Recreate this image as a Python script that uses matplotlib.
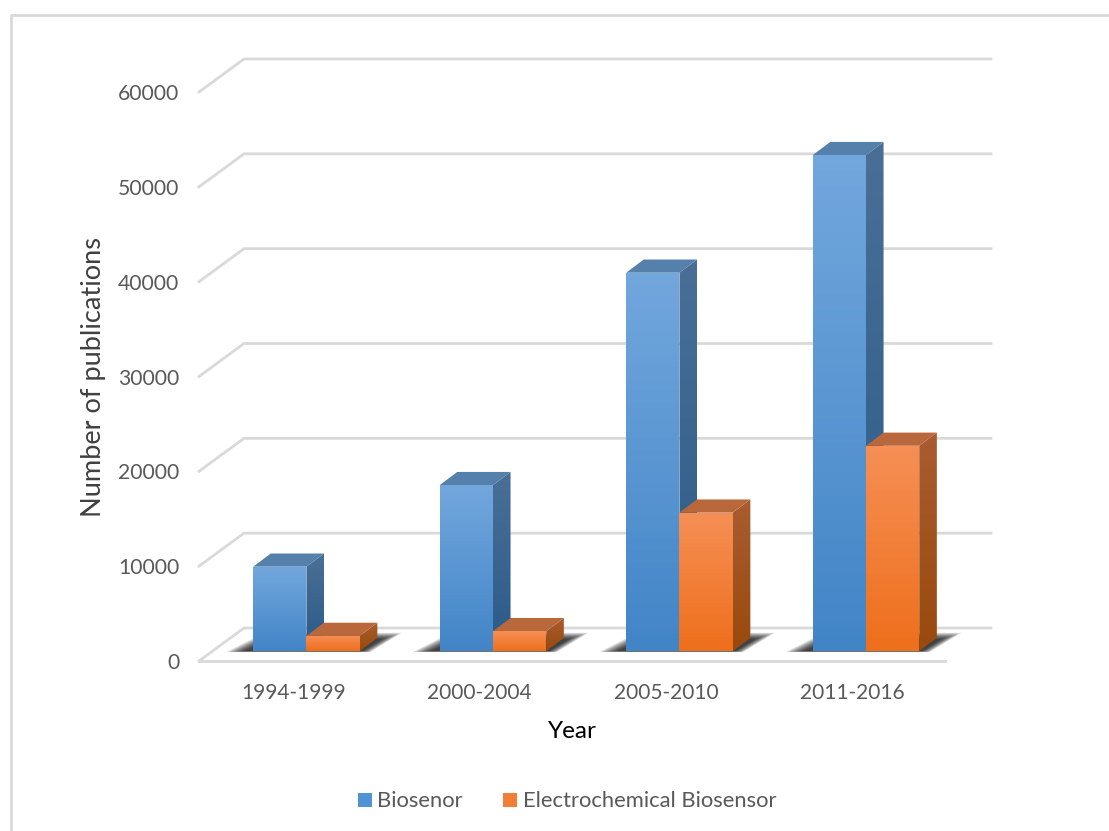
import numpy as np
import matplotlib
matplotlib.use('Agg')
import matplotlib.pyplot as plt
from matplotlib.patches import Polygon, Rectangle
from matplotlib.colors import LinearSegmentedColormap

W, H = 1109, 831

categories = ['1994-1999', '2000-2004', '2005-2010', '2011-2016']
biosensor = [8900, 17500, 39900, 52300]
electrochemical = [1600, 2100, 14600, 21650]
y_ticks = [0, 10000, 20000, 30000, 40000, 50000, 60000]

# pixel box of the front plane
LEFT, RIGHT, BOTTOM, TOP = 200, 946, 661, 92

BLUE = dict(front=('#72a7dd', '#4285c7'), side=('#4a6f96', '#2a5b89'), top='#5580ab')
ORANGE = dict(front=('#f68f55', '#ee6f1c'), side=('#a95c30', '#994a0d'), top='#b9683c')

plt.rcParams['font.family'] = ['Lato', 'DejaVu Sans']

fig = plt.figure(figsize=(W / 100, H / 100), dpi=100)
ax = fig.add_axes([LEFT / W, 1 - BOTTOM / H, (RIGHT - LEFT) / W, (BOTTOM - TOP) / H])
ax.set_xlim(-0.5, 3.5)
ax.set_ylim(0, 60000)
ax.patch.set_visible(False)
for s in ax.spines.values():
    s.set_visible(False)

# depth direction of the fake 3d box, in data units for depth 1
px_x = 4 / (RIGHT - LEFT)
px_y = 60000 / (BOTTOM - TOP)
DX = 44 * px_x
DY = 33 * px_y
bar_w = 53.3 * px_x


def proj(x, y, d):
    return (x + d * DX, y + d * DY)


def grad_poly(pts, c_top, c_bottom, zorder):
    # polygon filled with a vertical gradient
    pts = np.array(pts)
    cmap = LinearSegmentedColormap.from_list('g', [c_top, c_bottom])
    ext = [pts[:, 0].min(), pts[:, 0].max(), pts[:, 1].min(), pts[:, 1].max()]
    im = ax.imshow(np.linspace(0, 1, 64).reshape(-1, 1), cmap=cmap, extent=ext, origin='upper',
                   aspect='auto', zorder=zorder, clip_on=True)
    patch = Polygon(pts, closed=True, transform=ax.transData, fc='none', ec='none')
    ax.add_patch(patch)
    im.set_clip_path(patch)
    ax.set_xlim(-0.5, 3.5)
    ax.set_ylim(0, 60000)


def draw_shadow(x0, x1, zorder):
    # soft dark patch on the floor, stacked translucent layers for the blur
    for g in np.linspace(1, 0, 24):
        d_low = 0.3 - 0.03 * g
        d_high = 0.66 + 0.2 * g
        pts = [proj(x0 - (8 + 18 * g) * px_x, 0, d_low), proj(x1 + (2 + 10 * g) * px_x, 0, d_low),
               proj(x1 + (6 + 12 * g) * px_x, 0, d_high), proj(x0 - (16 * g - 2) * px_x, 0, d_high)]
        ax.add_patch(Polygon(pts, closed=True, fc='black', ec='none', alpha=0.05, zorder=zorder,
                             clip_on=False))


def draw_bar(x0, x1, val, col, zorder):
    d0, d1 = 0.3, 0.7
    grad_poly([proj(x0, 0, d0), proj(x1, 0, d0), proj(x1, val, d0), proj(x0, val, d0)],
              col['front'][0], col['front'][1], zorder + 0.2)
    grad_poly([proj(x1, 0, d0), proj(x1, 0, d1), proj(x1, val, d1), proj(x1, val, d0)],
              col['side'][0], col['side'][1], zorder)
    ax.add_patch(Polygon([proj(x0, val, d0), proj(x1, val, d0), proj(x1, val, d1), proj(x0, val, d1)],
                         closed=True, fc=col['top'], ec='none', zorder=zorder + 0.1))


# gridlines: slanted on the left wall, then along the back wall
for v in y_ticks:
    xs = [-0.5 - px_x, -0.5 + DX, 3.5 + DX + px_x]
    ys = [v, v + DY, v + DY]
    ax.plot(xs, ys, color='#d9d9d9', lw=2.0, solid_joinstyle='miter', zorder=1, clip_on=False)
ax.plot([-0.5 - px_x, 3.5 - px_x], [0, 0], color='#d9d9d9', lw=2.0, zorder=1, clip_on=False)

for i in range(len(categories)):
    draw_shadow(i - bar_w, i + bar_w, 2)
    draw_bar(i, i + bar_w, electrochemical[i], ORANGE, 5)
    draw_bar(i - bar_w, i, biosensor[i], BLUE, 3)

ax.set_xticks(range(len(categories)))
ax.set_xticklabels(categories, fontsize=15, color='#595959')
ax.set_yticks(y_ticks)
ax.set_yticklabels([str(v) for v in y_ticks], fontsize=15.2, color='#595959', va='center_baseline')
ax.tick_params(axis='x', length=0, pad=16)
ax.tick_params(axis='y', length=0, pad=15)

fig.text(572 / W, 1 - 731 / H, 'Year', ha='center', va='center', fontsize=17.5, color='black')
fig.text(94 / W, 1 - 377 / H, 'Number of publications', ha='center', va='center', rotation=90,
         fontsize=19.6, color='#404040')

# chart frame
fig.add_artist(plt.Line2D([10.5 / W, 10.5 / W, 1], [0, 1 - 15 / H, 1 - 15 / H], color='#d9d9d9', lw=2))

# legend
leg = fig.add_axes([0, 0, 1, 1])
leg.set_xlim(0, W)
leg.set_ylim(H, 0)
leg.axis('off')
leg.add_patch(Rectangle((358, 793), 14, 14, fc='#5193d3', ec='none'))
leg.add_patch(Rectangle((503, 793), 14, 14, fc='#f27d35', ec='none'))
leg.text(377, 801, 'Biosenor', va='center', ha='left', fontsize=15.8, color='#595959')
leg.text(523, 801, 'Electrochemical Biosensor', va='center', ha='left', fontsize=15.8, color='#595959')

fig.savefig('out.png', dpi=100)
